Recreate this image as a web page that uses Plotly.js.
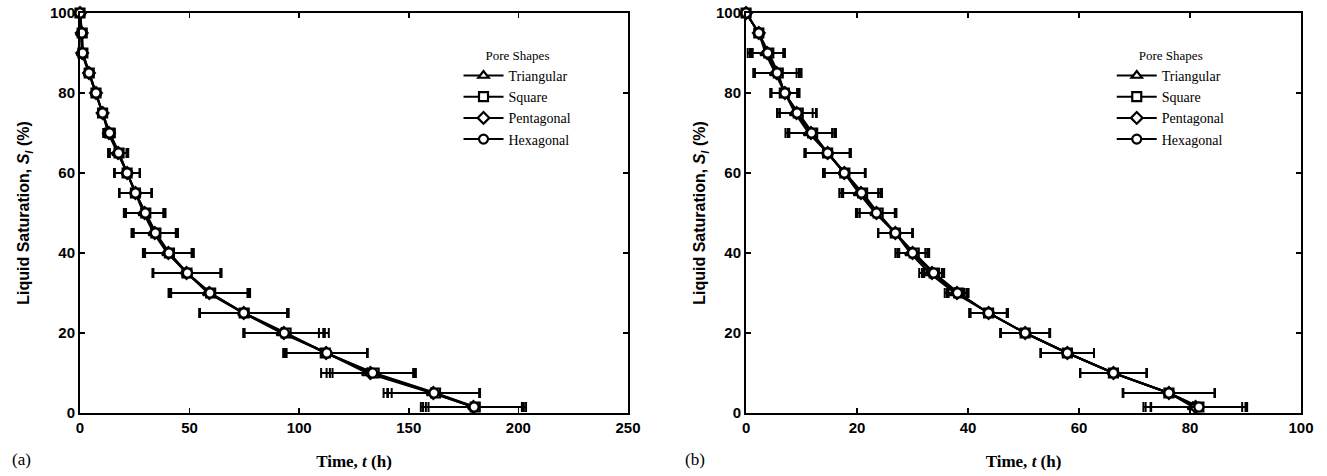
<!DOCTYPE html>
<html>
<head>
<meta charset="utf-8">
<script src="https://cdn.plot.ly/plotly-3.0.1.min.js"></script>
<style>
  html, body { margin: 0; padding: 0; background: #ffffff; }
  #chart { width: 1327px; height: 476px; }
</style>
</head>
<body>
<div id="chart"></div>
<script>
// ---------------- DATA ----------------
const seriesNames = ["Triangular", "Square", "Pentagonal", "Hexagonal"];

// Liquid saturation levels (%) – shared by all series
const satLevels = [100, 95, 90, 85, 80, 75, 70, 65, 60, 55, 50, 45, 40, 35, 30, 25, 20, 15, 10, 5, 1.5];

// Panel (a): drying time (h) per pore shape
const timeA_tri  = [0, 0.5, 0.8, 4.0, 7.3, 10.3, 12.8, 17.0, 21.5, 25.3, 29.0, 33.6, 39.8, 48.8, 58.4, 74.5, 92.0, 112.6, 131.0, 160.5, 179.5];
const timeA_sq   = [0, 1.0, 1.3, 4.2, 7.3, 10.3, 13.6, 17.8, 21.5, 25.3, 30.0, 34.6, 40.8, 48.8, 59.6, 74.9, 94.0, 111.9, 134.2, 162.2, 180.3];
const timeA_pent = [0, 0.8, 1.0, 4.1, 7.3, 10.3, 13.2, 17.4, 21.5, 25.3, 29.5, 34.1, 40.3, 48.6, 59.0, 74.7, 93.0, 112.3, 132.5, 161.2, 179.5];
const timeA_hex  = [0, 0.8, 1.2, 4.1, 7.3, 10.3, 13.5, 17.6, 21.5, 25.3, 29.8, 34.4, 40.6, 49.0, 59.3, 74.7, 93.2, 112.6, 133.5, 161.5, 179.8];
// Panel (a): error (± h)
const errA_tri  = [0, 0, 0, 0, 0, 0.8, 2.2, 4.2, 5.8, 7.4, 9.0, 10.1, 11.1, 15.6, 18.0, 20.0, 17.0, 18.5, 21.0, 22.0, 23.0];
const errA_sq   = [0, 0, 0, 0, 0, 0.8, 2.2, 4.2, 5.8, 7.4, 9.0, 10.1, 11.1, 15.6, 18.0, 20.3, 19.5, 19.2, 19.0, 20.0, 21.3];
const errA_pent = [0, 0, 0, 0, 0, 0.8, 2.2, 4.2, 5.8, 7.4, 9.0, 10.1, 11.1, 15.4, 18.0, 20.1, 18.0, 18.8, 20.0, 21.0, 24.0];
const errA_hex  = [0, 0, 0, 0, 0, 0.8, 2.2, 4.2, 5.8, 7.4, 9.0, 10.1, 11.1, 15.5, 18.0, 20.0, 18.5, 18.4, 19.5, 21.0, 22.0];

// Panel (b): drying time (h) per pore shape
const timeB_tri  = [0, 2.3, 3.5, 5.2, 7.0, 8.8, 11.3, 14.7, 17.7, 20.3, 23.3, 26.9, 29.6, 33.0, 37.6, 43.7, 50.3, 57.9, 66.2, 76.2, 80.5];
const timeB_sq   = [0, 2.3, 4.1, 5.8, 6.9, 9.4, 12.0, 14.7, 17.8, 21.0, 23.8, 26.9, 30.3, 33.9, 38.3, 43.7, 50.3, 57.9, 66.2, 76.2, 81.6];
const timeB_pent = [0, 2.3, 3.8, 5.5, 7.0, 9.1, 11.7, 14.7, 17.7, 20.7, 23.5, 26.9, 30.0, 33.5, 38.0, 43.7, 50.3, 57.9, 66.2, 76.2, 81.0];
const timeB_hex  = [0, 2.3, 3.9, 5.6, 7.0, 9.2, 11.8, 14.7, 17.7, 20.8, 23.5, 26.9, 30.0, 33.8, 38.1, 43.7, 50.3, 57.9, 66.2, 76.2, 81.6];
// Panel (b): error (± h)
const errB_tri  = [0, 0, 3.2, 3.9, 2.6, 3.2, 4.2, 4.0, 3.8, 3.5, 3.5, 3.1, 2.7, 1.8, 1.8, 3.5, 4.4, 4.8, 6.0, 8.3, 8.9];
const errB_sq   = [0, 0, 2.9, 4.2, 2.3, 3.3, 4.2, 4.2, 3.6, 3.5, 3.3, 3.1, 2.7, 1.8, 1.8, 3.3, 4.5, 4.8, 6.0, 8.2, 8.7];
const errB_pent = [0, 0, 3.1, 4.0, 2.6, 3.5, 4.2, 4.0, 3.8, 3.5, 3.5, 3.1, 2.7, 1.8, 1.8, 3.3, 4.4, 4.8, 6.0, 8.3, 9.0];
const errB_hex  = [0, 0, 3.0, 4.1, 2.5, 3.5, 4.2, 4.0, 3.8, 3.5, 3.4, 3.1, 2.7, 1.8, 1.8, 3.3, 4.4, 4.8, 6.0, 8.3, 8.6];

// Axis ticks
const xTicksA = [0, 50, 100, 150, 200, 250];
const xTicksB = [0, 20, 40, 60, 80, 100];
const yTicks  = [0, 20, 40, 60, 80, 100];

// ---------------- STYLE ----------------
const symbols = ["triangle-up", "square", "diamond", "circle"];
const serif = "Liberation Serif, Times New Roman, serif";
const sans  = "Liberation Sans, Arial, sans-serif";

function makeTrace(x, err, i, xa, ya, legendId) {
  return {
    type: "scatter",
    mode: "lines+markers",
    name: seriesNames[i],
    x: x,
    y: satLevels,
    xaxis: xa,
    yaxis: ya,
    legend: legendId,
    cliponaxis: false,
    line: { color: "#000000", width: 2 },
    marker: { symbol: symbols[i], size: 9, color: "#ffffff", line: { color: "#000000", width: 2.2 } },
    error_x: { type: "data", array: err, symmetric: true, visible: true, color: "#000000", thickness: 2, width: 5 }
  };
}

const tA = [timeA_tri, timeA_sq, timeA_pent, timeA_hex];
const eA = [errA_tri, errA_sq, errA_pent, errA_hex];
const tB = [timeB_tri, timeB_sq, timeB_pent, timeB_hex];
const eB = [errB_tri, errB_sq, errB_pent, errB_hex];

const traces = [];
for (let i = 0; i < 4; i++) traces.push(makeTrace(tA[i], eA[i], i, "x", "y", "legend"));
for (let i = 0; i < 4; i++) traces.push(makeTrace(tB[i], eB[i], i, "x2", "y2", "legend2"));

const tickFont = { family: sans, size: 15, color: "#000000", weight: "bold" };

function xAxis(domain, range, ticks, anchor) {
  return {
    domain: domain, range: range, anchor: anchor,
    tickvals: ticks, ticktext: ticks.map(String),
    showgrid: false, zeroline: false,
    showline: true, linecolor: "#000000", linewidth: 2, mirror: "ticks",
    ticks: "inside", ticklen: 5, tickwidth: 1.5, tickcolor: "#000000",
    tickfont: tickFont,
    title: { text: "Time, <i>t</i> (h)", font: { family: serif, size: 17, color: "#000000", weight: "bold" }, standoff: 20 }
  };
}
function yAxis(anchor, standoff) {
  return {
    domain: [0, 1], range: [0, 100], anchor: anchor,
    tickvals: yTicks, ticktext: yTicks.map(String),
    showgrid: false, zeroline: false,
    showline: true, linecolor: "#000000", linewidth: 2, mirror: "ticks",
    ticks: "inside", ticklen: 5, tickwidth: 1.5, tickcolor: "#000000",
    tickfont: tickFont,
    title: { text: "Liquid Saturation, <i>S<sub>l</sub></i> (%)", font: { family: sans, size: 16, color: "#000000", weight: "bold" }, standoff: standoff }
  };
}

const legendCommon = {
  bgcolor: "rgba(0,0,0,0)", borderwidth: 0,
  font: { family: serif, size: 14, color: "#000000" },
  title: { text: "Pore Shapes", font: { family: serif, size: 13, color: "#000000" }, side: "top center" },
  xanchor: "left", yanchor: "top", itemwidth: 40, tracegroupgap: 0
};

const layout = {
  width: 1327, height: 476,
  margin: { l: 80, r: 26, t: 13, b: 63 },
  paper_bgcolor: "#ffffff", plot_bgcolor: "#ffffff",
  xaxis: xAxis([0, 0.4488], [0, 250], xTicksA, "y"),
  yaxis: yAxis("x", 16),
  xaxis2: xAxis([0.5455, 1], [0, 100], xTicksB, "y2"),
  yaxis2: yAxis("x2", 6),
  legend: Object.assign({}, legendCommon, { x: 0.31, y: 0.925 }),
  legend2: Object.assign({}, legendCommon, { x: 0.845, y: 0.925 }),
  annotations: [
    { text: "(a)", xref: "paper", yref: "paper", x: -0.057, y: -0.115, xanchor: "left", yanchor: "middle", showarrow: false, font: { family: serif, size: 17, color: "#000000" } },
    { text: "(b)", xref: "paper", yref: "paper", x: 0.494, y: -0.115, xanchor: "left", yanchor: "middle", showarrow: false, font: { family: serif, size: 17, color: "#000000" } }
  ],
  showlegend: true
};

Plotly.newPlot("chart", traces, layout, { displayModeBar: false, staticPlot: true });
</script>
</body>
</html>
